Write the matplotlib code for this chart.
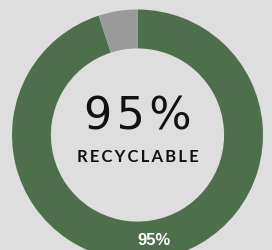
import matplotlib
matplotlib.use("Agg")
import matplotlib.pyplot as plt

# share of material
labels = ["Recyclable", "Other"]
values = [95, 5]
colors = ["#4e6f4c", "#9a9a9a"]
center_value = "95%"
center_label = "RECYCLABLE"
bg = "#dfdedf"

fig = plt.figure(figsize=(2.72, 2.51), dpi=100, facecolor=bg)
ax = fig.add_axes([12 / 272, -10.5 / 251, 251 / 272, 1.0])
ax.set_facecolor(bg)


def show_pct(p):
    # only the big slice gets a label
    return f"{p:.0f}%" if p > 10 else ""


def tracked(s, gap="\u2009"):
    # rough letter spacing
    return gap.join(s)


wedges, texts, autotexts = ax.pie(
    values, colors=colors, startangle=90, counterclock=False,
    radius=1.0, wedgeprops=dict(width=0.31, linewidth=0),
    autopct=show_pct, pctdistance=0.845,
    textprops=dict(color="white", fontsize=12, fontweight="bold",
                   family="Liberation Sans"))

ax.text(0, 0.155, tracked(center_value, "\u200a"), ha="center", va="center",
        fontsize=32, family=["DejaVu Sans"], color="#111111")
ax.text(0, -0.17, tracked(center_label, "\u2009"), ha="center", va="center",
        fontsize=12, family=["Lato", "DejaVu Sans"], fontweight="bold",
        color="#111111")

ax.set_xlim(-1, 1)
ax.set_ylim(-1, 1)
ax.set_aspect("equal")
ax.axis("off")

fig.savefig("out.png", dpi=100, facecolor=bg)
